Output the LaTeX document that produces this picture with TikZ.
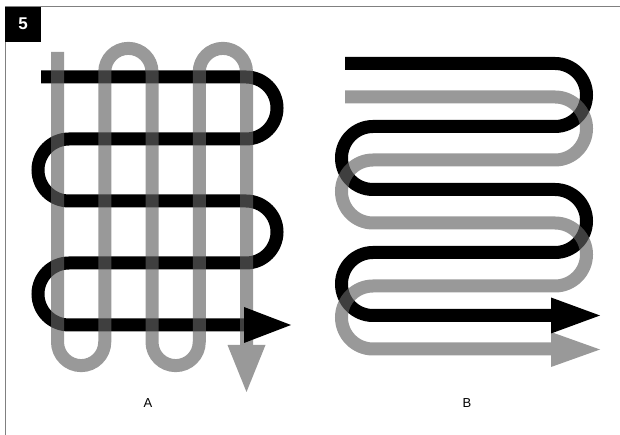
\documentclass[tikz,border=0pt]{standalone}
\usepackage{fontspec}
\setmainfont{Liberation Sans}
\begin{document}
\begin{tikzpicture}[x=1pt,y=1pt,
  frameline/.style={draw=black!50, line width=1pt},
  blk/.style={draw=black, line width=13pt},
  gry/.style={draw=black!61.5, draw opacity=0.65, line width=13pt},
  blkhead/.style={fill=black},
  gryhead/.style={fill=black!40},
  lbl/.style={font=\fontsize{13}{13}\selectfont, inner sep=0pt}]
\useasboundingbox (0,0) rectangle (620,435);
% frame
\draw[frameline] (5,0) -- (5,428) -- (620,428);
\node[fill=black, minimum width=36pt, minimum height=35pt, anchor=north west, inner sep=0pt,
  text=white, font=\bfseries\fontsize{17}{17}\selectfont] (num) at (5,428.5) {5};
% ---------- A ----------
\draw[blk] (41,358) -- (246,358) arc[start angle=90,end angle=-90,radius=31]
  -- (69,296) arc[start angle=90,end angle=270,radius=31]
  -- (246,234) arc[start angle=90,end angle=-90,radius=31]
  -- (69,172) arc[start angle=90,end angle=270,radius=31]
  -- (245,110);
\draw[gry] (57.5,383) -- (57.5,93) arc[start angle=180,end angle=360,radius=23.625]
  -- (104.75,363) arc[start angle=180,end angle=0,radius=23.625]
  -- (152,93) arc[start angle=180,end angle=360,radius=23.625]
  -- (199.25,363) arc[start angle=180,end angle=0,radius=23.625]
  -- (246.5,89.5);
\fill[gryhead] (227.5,90) -- (246.5,43) -- (265.5,90) -- cycle;
\fill[blkhead] (244,128) -- (291,110) -- (244,92) -- cycle;
\node[lbl] (la) at (148,32) {A};
% ---------- B ----------
\draw[blk] (345,371.5) -- (555,371.5) arc[start angle=90,end angle=-90,radius=31.5]
  -- (373,308.5) arc[start angle=90,end angle=270,radius=31.5]
  -- (555,245.5) arc[start angle=90,end angle=-90,radius=31.5]
  -- (373,182.5) arc[start angle=90,end angle=270,radius=31.5]
  -- (552,119.5);
\draw[gry] (345,338) -- (555,338) arc[start angle=90,end angle=-90,radius=31.5]
  -- (373,275) arc[start angle=90,end angle=270,radius=31.5]
  -- (555,212) arc[start angle=90,end angle=-90,radius=31.5]
  -- (373,149) arc[start angle=90,end angle=270,radius=31.5]
  -- (552,86);
\fill[gryhead] (551,103) -- (600,85.5) -- (551,68) -- cycle;
\fill[blkhead] (551,137.5) -- (600,119.5) -- (551,101.5) -- cycle;
\node[lbl] (lb) at (467,32) {B};
\end{tikzpicture}
\end{document}
